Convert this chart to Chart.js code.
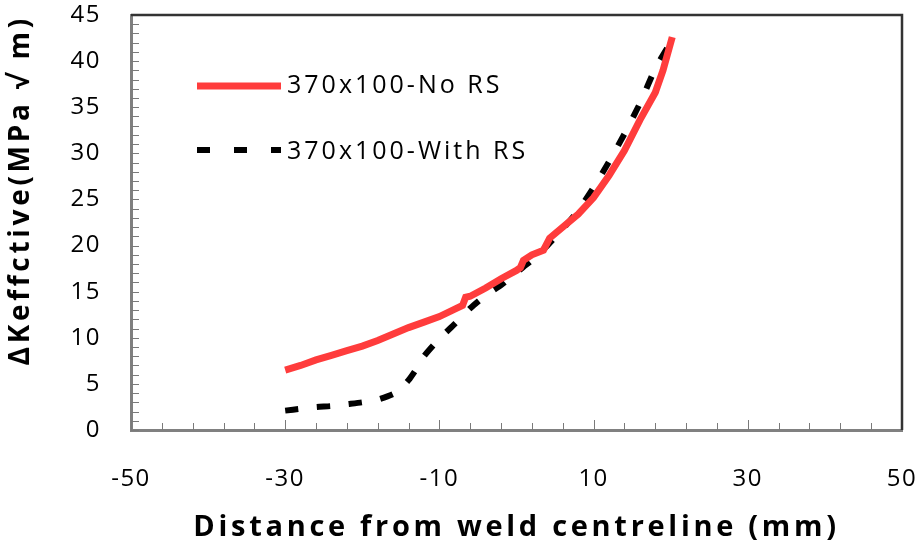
<!DOCTYPE html>
<html>
<head>
<meta charset="utf-8">
<script src="https://cdn.jsdelivr.net/npm/chart.js@4.4.1/dist/chart.umd.min.js"></script>
<style>
  html, body { margin: 0; padding: 0; background: #ffffff; }
  #wrap { width: 919px; height: 554px; }
</style>
</head>
<body>
<div id="wrap"><canvas id="c" width="919" height="554"></canvas></div>
<script>
// ---- data ----
const seriesNames = ["370x100-No RS", "370x100-With RS"];
const xNoRS = [-30, -28, -26, -24, -22, -20, -18, -16, -14, -12, -10, -8, -7, -6.6, -6, -4, -2, 0, 0.5, 0.9, 2, 3.5, 4.3, 6, 8, 10, 12, 14, 16, 18, 19, 20.2];
const yNoRS = [6.5, 7.0, 7.6, 8.1, 8.6, 9.1, 9.7, 10.4, 11.1, 11.7, 12.3, 13.1, 13.5, 14.4, 14.5, 15.4, 16.4, 17.3, 17.6, 18.4, 19.0, 19.5, 20.8, 22.0, 23.4, 25.2, 27.6, 30.3, 33.6, 36.6, 39.0, 42.6];
const xWithRS = [-30, -28, -26, -24, -22, -20, -18, -16, -15, -14, -13, -12, -10, -8, -6, -4, -2, 0, 2, 4, 6, 8, 10, 12, 14, 16, 18, 19.6];
const yWithRS = [2.1, 2.3, 2.5, 2.6, 2.8, 3.0, 3.3, 3.9, 4.5, 5.4, 6.6, 8.0, 9.9, 11.5, 13.2, 14.6, 15.7, 17.1, 18.4, 20.0, 21.8, 23.8, 26.3, 29.1, 32.1, 35.4, 39.2, 41.5];
const xTickValues = [-50, -30, -10, 10, 30, 50];
const xTitle = "Distance from weld centreline (mm)";
const yTitle = "ΔKeffctive(MPa √ m)";

const toPoints = (xs, ys) => xs.map((x, i) => ({ x: x, y: ys[i] }));

const RED = "#ff3c3c";
const FONT = "'Open Sans', 'Liberation Sans', sans-serif";

const noOverflow = (scale) => {
  scale.paddingLeft = 0; scale.paddingRight = 0;
  scale.paddingTop = 0; scale.paddingBottom = 0;
};

const spacingPlugin = {
  id: "spacing",
  beforeDraw(chart) { chart.ctx.letterSpacing = "3.7px"; },
  afterDatasetsDraw(chart) { chart.ctx.letterSpacing = "1.5px"; }
};

const framePlugin = {
  id: "frame",
  beforeDatasetsDraw(chart) {
    const ctx = chart.ctx;
    const a = chart.chartArea;
    const xs = chart.scales.x, ys = chart.scales.y;
    ctx.save();
    ctx.strokeStyle = "#7a7a7a";
    ctx.lineWidth = 1;
    for (let v = -50; v <= 50; v += 4) {
      const px = Math.round(xs.getPixelForValue(v)) + 0.5;
      const len = xTickValues.includes(v) ? 10 : 7;
      ctx.beginPath();
      ctx.moveTo(px, a.bottom);
      ctx.lineTo(px, a.bottom - len);
      ctx.stroke();
    }
    for (let v = 0; v <= 45; v += 1) {
      const py = Math.round(ys.getPixelForValue(v)) + 0.5;
      ctx.beginPath();
      ctx.moveTo(a.left, py);
      ctx.lineTo(a.left + 8, py);
      ctx.stroke();
    }
    ctx.strokeStyle = "#333333";
    ctx.lineWidth = 2.5;
    ctx.beginPath();
    ctx.moveTo(a.left, a.top);
    ctx.lineTo(a.right, a.top);
    ctx.lineTo(a.right, a.bottom);
    ctx.stroke();
    ctx.restore();
  },
  afterDraw(chart) {
    const ctx = chart.ctx;
    ctx.save();
    ctx.letterSpacing = "3px";
    ctx.lineCap = "butt";
    ctx.strokeStyle = RED;
    ctx.lineWidth = 7;
    ctx.beginPath();
    ctx.moveTo(197, 86);
    ctx.lineTo(281, 86);
    ctx.stroke();
    ctx.strokeStyle = "#000000";
    ctx.lineWidth = 6;
    ctx.setLineDash([13, 24]);
    ctx.beginPath();
    ctx.moveTo(197, 150);
    ctx.lineTo(281, 150);
    ctx.stroke();
    ctx.setLineDash([]);
    ctx.fillStyle = "#000000";
    ctx.font = "25px " + FONT;
    ctx.textBaseline = "middle";
    ctx.textAlign = "left";
    ctx.fillText(seriesNames[0], 287, 86);
    ctx.fillText(seriesNames[1], 287, 152);
    ctx.restore();
  }
};

new Chart(document.getElementById("c"), {
  type: "line",
  data: {
    datasets: [
      {
        label: seriesNames[0],
        data: toPoints(xNoRS, yNoRS),
        borderColor: RED,
        backgroundColor: RED,
        borderWidth: 7,
        pointRadius: 0,
        tension: 0,
        fill: false
      },
      {
        label: seriesNames[1],
        data: toPoints(xWithRS, yWithRS),
        borderColor: "#000000",
        backgroundColor: "#000000",
        borderWidth: 6,
        borderDash: [13, 19],
        borderCapStyle: "butt",
        pointRadius: 0,
        tension: 0.2,
        fill: false
      }
    ]
  },
  options: {
    responsive: false,
    animation: false,
    devicePixelRatio: 1,
    layout: { padding: { top: 15, right: 17, left: 0, bottom: 0 } },
    plugins: {
      legend: { display: false },
      tooltip: { enabled: false }
    },
    scales: {
      x: {
        type: "linear",
        min: -50,
        max: 50,
        afterFit(scale) { scale.height = 124; noOverflow(scale); },
        afterBuildTicks(scale) { scale.ticks = xTickValues.map(v => ({ value: v })); },
        grid: { display: false, drawTicks: false },
        border: { display: true, color: "#808080", width: 3 },
        ticks: {
          z: 1,
          color: "#000000",
          font: { family: FONT, size: 24 },
          padding: 35,
          maxRotation: 0,
          autoSkip: false
        },
        title: {
          display: true,
          text: xTitle,
          color: "#000000",
          font: { family: FONT, size: 29, weight: "bold" },
          padding: { top: 0, bottom: 9 }
        }
      },
      y: {
        type: "linear",
        min: 0,
        max: 45,
        afterFit(scale) { scale.width = 131; noOverflow(scale); },
        grid: { display: false, drawTicks: false },
        border: { display: true, color: "#808080", width: 3 },
        ticks: {
          z: 1,
          stepSize: 5,
          color: "#000000",
          font: { family: FONT, size: 24 },
          padding: 30
        },
        title: {
          display: true,
          text: yTitle,
          align: "end",
          color: "#000000",
          font: { family: FONT, size: 28, weight: "bold" },
          padding: { top: 4, bottom: 0 }
        }
      }
    }
  },
  plugins: [spacingPlugin, framePlugin]
});
</script>
</body>
</html>
